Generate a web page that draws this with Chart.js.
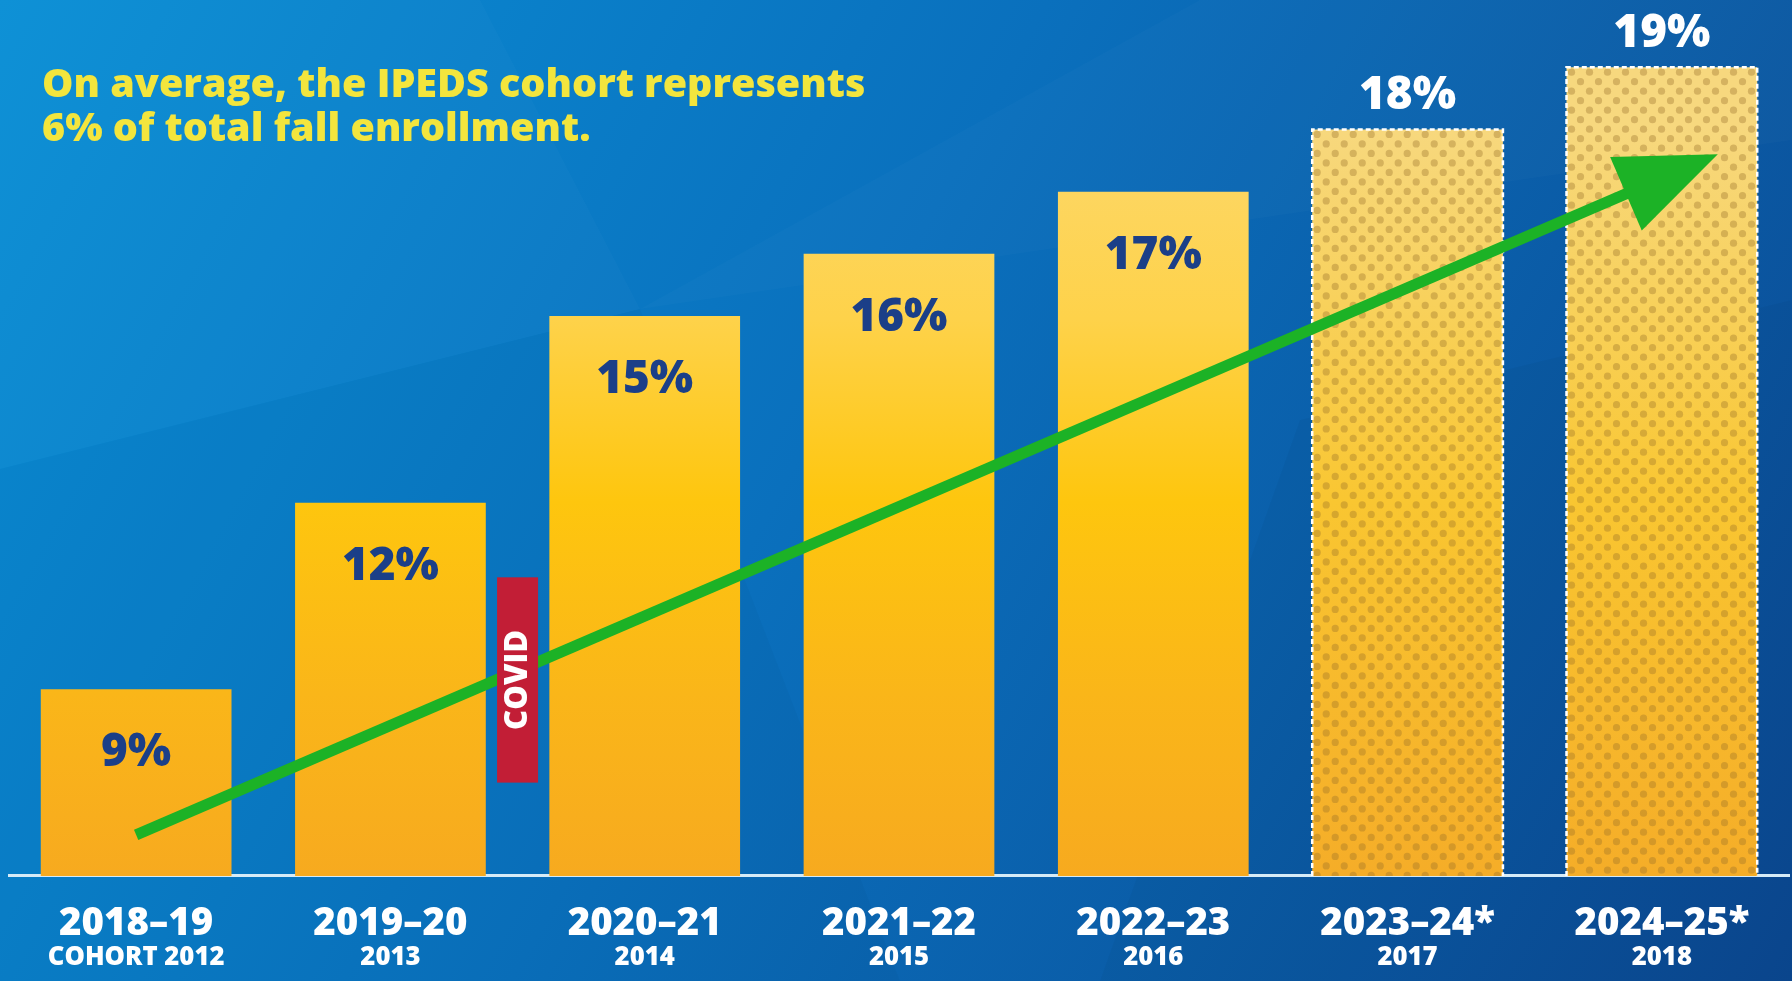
<!DOCTYPE html>
<html>
<head>
<meta charset="utf-8">
<script src="https://cdn.jsdelivr.net/npm/chart.js@4.4.0/dist/chart.umd.min.js"></script>
<style>
  html, body { margin: 0; padding: 0; background: #0a6fbb; overflow: hidden; }
  #contenedor { width: 1792px; height: 981px; position: relative; }
</style>
</head>
<body>
<div id="contenedor"><canvas id="grafico"></canvas></div>
<script>
// Datos del gráfico
const categorias = ['2018–19', '2019–20', '2020–21', '2021–22', '2022–23', '2023–24*', '2024–25*'];
const cohortes = ['COHORT 2012', '2013', '2014', '2015', '2016', '2017', '2018'];
const porcentajes = [9, 12, 15, 16, 17, 18, 19];
const proyectado = [false, false, false, false, false, true, true];
const ejeY = [6, 20];                 // min y max del eje de valores
const covid = [1.5, 7.5, 10.8];       // posición en x, desde, hasta
const tendenciaInicio = [0, 6.66];
const tendenciaFin = [6.22, 17.6];
const titulo = ['On average, the IPEDS cohort represents', '6% of total fall enrollment.'];

const FUENTE = '"Open Sans", Roboto, sans-serif';
const PESO = '800';

// Tamaño de letra para que el texto ocupe un ancho dado
const medidor = document.createElement('canvas').getContext('2d');
function tamano(texto, ancho) {
    medidor.font = PESO + ' 100px ' + FUENTE;
    return Math.round(1000 * ancho / medidor.measureText(texto).width) / 10;
}
const fTitulo = tamano(titulo[0], 823);
const fEje = tamano(categorias[0], 154);
const fCohorte = tamano(cohortes[0], 177);
const fValor = tamano('15%', 97);
const fCovid = tamano('COVID', 100);

function degradado(ctx, area, paradas) {
    const g = ctx.createLinearGradient(0, area.top, 0, area.bottom);
    paradas.forEach(p => g.addColorStop(p[0], p[1]));
    return g;
}

// Fondo azul con facetas
const fondo = {
    id: 'fondo',
    beforeDraw(chart) {
        const ctx = chart.ctx;
        const w = chart.width, h = chart.height;
        ctx.save();
        const g = ctx.createLinearGradient(0, 0, w, h);
        g.addColorStop(0, '#0a8fd6');
        g.addColorStop(0.45, '#0a70bd');
        g.addColorStop(1, '#0b4891');
        ctx.fillStyle = g;
        ctx.fillRect(0, 0, w, h);
        const facetas = [
            [[0, 0], [480, 0], [640, 309], [0, 469], 'rgba(255,255,255,0.02)'],
            [[640, 309], [1200, 0], [1792, 0], [1792, 140], 'rgba(255,255,255,0.02)'],
            [[0, 469], [640, 309], [900, 981], [0, 981], 'rgba(0,0,0,0.025)'],
            [[1300, 420], [1792, 300], [1792, 981], [1100, 981], 'rgba(0,0,0,0.03)']
        ];
        facetas.forEach(f => {
            ctx.beginPath();
            ctx.moveTo(f[0][0], f[0][1]);
            for (let i = 1; i < f.length - 1; i++) ctx.lineTo(f[i][0], f[i][1]);
            ctx.closePath();
            ctx.fillStyle = f[f.length - 1];
            ctx.fill();
        });
        ctx.restore();
    }
};

// Barras proyectadas: puntos y borde punteado
const proyecciones = {
    id: 'proyecciones',
    afterDatasetsDraw(chart) {
        const ctx = chart.ctx;
        const meta = chart.getDatasetMeta(0);
        meta.data.forEach((el, i) => {
            if (!proyectado[i]) return;
            const p = el.getProps(['x', 'y', 'width', 'base'], true);
            const izq = p.x - p.width / 2;
            const base = Math.min(p.base, chart.chartArea.bottom);
            ctx.save();
            ctx.beginPath();
            ctx.rect(izq, p.y, p.width, base - p.y);
            ctx.clip();
            ctx.fillStyle = 'rgba(150,110,40,0.35)';
            let fila = 0;
            for (let yy = p.y + 5; yy < base + 5; yy += 9.5, fila++) {
                const desp = fila % 2 ? 9 : 0;
                for (let xx = izq + 5 + desp; xx < izq + p.width + 5; xx += 18) {
                    ctx.beginPath();
                    ctx.arc(xx, yy, 3.6, 0, Math.PI * 2);
                    ctx.fill();
                }
            }
            ctx.restore();
            ctx.save();
            ctx.strokeStyle = '#ffffff';
            ctx.lineWidth = 2.5;
            ctx.setLineDash([5, 3]);
            ctx.beginPath();
            ctx.moveTo(izq, base);
            ctx.lineTo(izq, p.y);
            ctx.lineTo(izq + p.width, p.y);
            ctx.lineTo(izq + p.width, base);
            ctx.stroke();
            ctx.restore();
        });
    }
};

// Flecha de tendencia, marca COVID y textos
const anotaciones = {
    id: 'anotaciones',
    afterDraw(chart) {
        const ctx = chart.ctx;
        const xs = chart.scales.x, ys = chart.scales.y;

        // flecha
        const x0 = xs.getPixelForValue(tendenciaInicio[0]), y0 = ys.getPixelForValue(tendenciaInicio[1]);
        const x1 = xs.getPixelForValue(tendenciaFin[0]), y1 = ys.getPixelForValue(tendenciaFin[1]);
        const len = Math.hypot(x1 - x0, y1 - y0);
        const ux = (x1 - x0) / len, uy = (y1 - y0) / len;
        const largo = 100, ancho = 40;
        const bx = x1 - ux * largo, by = y1 - uy * largo;
        ctx.save();
        ctx.strokeStyle = '#1cb226';
        ctx.fillStyle = '#1cb226';
        ctx.lineWidth = 11;
        ctx.beginPath();
        ctx.moveTo(x0, y0);
        ctx.lineTo(bx + ux * 10, by + uy * 10);
        ctx.stroke();
        ctx.beginPath();
        ctx.moveTo(x1, y1);
        ctx.lineTo(bx - uy * ancho, by + ux * ancho);
        ctx.lineTo(bx + uy * ancho, by - ux * ancho);
        ctx.closePath();
        ctx.fill();
        ctx.restore();

        // COVID
        const cx = xs.getPixelForValue(covid[0]);
        const cTop = ys.getPixelForValue(covid[2]), cBot = ys.getPixelForValue(covid[1]);
        ctx.save();
        ctx.fillStyle = '#c21e36';
        ctx.fillRect(cx - 20.5, cTop, 41, cBot - cTop);
        ctx.translate(cx, (cTop + cBot) / 2);
        ctx.rotate(-Math.PI / 2);
        ctx.fillStyle = '#ffffff';
        ctx.font = PESO + ' ' + fCovid + 'px ' + FUENTE;
        ctx.textAlign = 'center';
        ctx.textBaseline = 'middle';
        ctx.fillText('COVID', 0, 1);
        ctx.restore();

        // valores de las barras
        const meta = chart.getDatasetMeta(0);
        ctx.save();
        ctx.font = PESO + ' ' + fValor + 'px ' + FUENTE;
        ctx.textAlign = 'center';
        ctx.textBaseline = 'middle';
        meta.data.forEach((el, i) => {
            const txt = porcentajes[i] + '%';
            if (proyectado[i]) {
                ctx.fillStyle = '#ffffff';
                ctx.fillText(txt, el.x, el.y - 33);
            } else {
                ctx.fillStyle = '#1b3f88';
                ctx.fillText(txt, el.x, el.y + 64);
            }
        });
        ctx.restore();

        // cohortes bajo las etiquetas
        ctx.save();
        ctx.font = PESO + ' ' + fCohorte + 'px ' + FUENTE;
        ctx.fillStyle = '#ffffff';
        ctx.textAlign = 'center';
        ctx.textBaseline = 'middle';
        cohortes.forEach((c, i) => ctx.fillText(c, xs.getPixelForValue(i), 958));
        ctx.restore();

        // título
        ctx.save();
        ctx.font = PESO + ' ' + fTitulo + 'px ' + FUENTE;
        ctx.fillStyle = '#f3e53d';
        ctx.textAlign = 'left';
        ctx.textBaseline = 'middle';
        ctx.fillText(titulo[0], 42, 86);
        ctx.fillText(titulo[1], 42, 130);
        ctx.restore();
    }
};

const ctxGrafico = document.getElementById('grafico').getContext('2d');
new Chart(ctxGrafico, {
    type: 'bar',
    data: {
        labels: categorias,
        datasets: [{
            data: porcentajes,
            base: ejeY[0],
            barPercentage: 0.75,
            categoryPercentage: 1,
            borderWidth: 0,
            backgroundColor: function(context) {
                const area = context.chart.chartArea;
                if (!area) return '#fcc20f';
                if (proyectado[context.dataIndex]) {
                    return degradado(context.chart.ctx, area, [
                        [0.14, '#f7d87e'], [0.34, '#f8d15c'], [0.57, '#f9c631'], [1, '#f5ad28']
                    ]);
                }
                return degradado(context.chart.ctx, area, [
                    [0.21, '#fdd660'], [0.36, '#fed24a'], [0.57, '#fec60e'], [0.79, '#fab619'], [1, '#f7aa1f']
                ]);
            }
        }]
    },
    options: {
        responsive: true,
        maintainAspectRatio: false,
        animation: false,
        layout: { padding: { left: 9, right: 3, top: 5, bottom: 9 } },
        plugins: {
            legend: { display: false },
            tooltip: { enabled: false }
        },
        scales: {
            x: {
                grid: { display: false, drawTicks: false },
                border: { display: true, color: '#d6ebf7', width: 3 },
                ticks: {
                    color: '#ffffff',
                    font: { family: FUENTE, size: fEje, weight: PESO },
                    padding: 25,
                    maxRotation: 0,
                    autoSkip: false
                }
            },
            y: { display: false, beginAtZero: false, min: ejeY[0], max: ejeY[1] }
        }
    },
    plugins: [fondo, proyecciones, anotaciones]
});
</script>
</body>
</html>
